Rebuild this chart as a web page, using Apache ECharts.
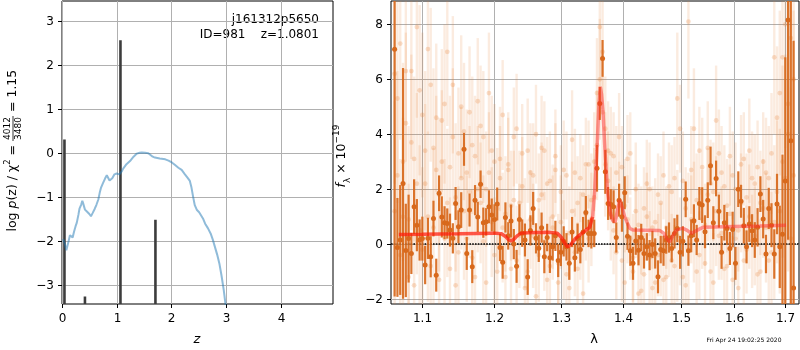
<!DOCTYPE html>
<html>
<head>
<meta charset="utf-8">
<script src="https://cdn.jsdelivr.net/npm/echarts@6/dist/echarts.min.js"></script>
<style>
  html, body { margin: 0; padding: 0; background: #fff; }
  #chart { width: 800px; height: 350px; }
</style>
</head>
<body>
<div id="chart"></div>
<script>
// left panel: log p(z)
const zGrid = [0.02, 0.05, 0.08, 0.10, 0.12, 0.145, 0.17, 0.195, 0.22, 0.25, 0.27, 0.30, 0.32, 0.35, 0.372, 0.39, 0.42, 0.46, 0.50, 0.53,
  0.56, 0.60, 0.63, 0.665, 0.69, 0.715, 0.75, 0.79, 0.82, 0.845, 0.87, 0.89, 0.92, 0.96, 1.00, 1.05, 1.09, 1.12, 1.18, 1.245,
  1.31, 1.37, 1.42, 1.46, 1.52, 1.58, 1.62, 1.66, 1.70, 1.79, 1.89, 1.95, 2.01, 2.07, 2.13, 2.19, 2.25, 2.30, 2.34, 2.37,
  2.40, 2.43, 2.47, 2.51, 2.54, 2.58, 2.62, 2.67, 2.72, 2.76, 2.80, 2.84, 2.88, 2.92, 2.96, 3.00];
const logPz = [-1.95, -2.05, -2.2, -2.18, -2.0, -1.86, -1.88, -1.91, -1.78, -1.65, -1.58, -1.4, -1.26, -1.17, -1.08, -1.15, -1.28, -1.33, -1.38, -1.43,
  -1.36, -1.26, -1.17, -1.05, -0.9, -0.78, -0.68, -0.57, -0.5, -0.52, -0.62, -0.65, -0.57, -0.48, -0.46, -0.48, -0.42, -0.35, -0.25, -0.18,
  -0.08, -0.01, 0.01, 0.015, 0.01, 0.0, -0.04, -0.08, -0.1, -0.12, -0.14, -0.17, -0.21, -0.27, -0.33, -0.38, -0.48, -0.56, -0.63, -0.78,
  -0.99, -1.18, -1.29, -1.34, -1.38, -1.48, -1.6, -1.7, -1.82, -1.96, -2.13, -2.3, -2.5, -2.78, -3.1, -3.5];
const barZ = [0.045, 0.42, 1.07, 1.71];
const barVal = [0.31, -3.25, 2.56, -1.51];
const zTicks = [0, 1, 2, 3, 4];
const pTicks = [-3, -2, -1, 0, 1, 2, 3];

// right panel: spectrum
const lam = [
  1.0646, 1.0682, 1.0718, 1.0754, 1.0790, 1.0826, 1.0862, 1.0898, 1.0934, 1.0970,
  1.1006, 1.1043, 1.1080, 1.1117, 1.1154, 1.1191, 1.1229, 1.1266, 1.1303, 1.1340,
  1.1377, 1.1416, 1.1454, 1.1493, 1.1531, 1.1570, 1.1608, 1.1647, 1.1685, 1.1724,
  1.1762, 1.1802, 1.1841, 1.1881, 1.1921, 1.1961, 1.2000, 1.2040, 1.2080, 1.2119,
  1.2159, 1.2200, 1.2241, 1.2282, 1.2323, 1.2365, 1.2406, 1.2447, 1.2488, 1.2529,
  1.2570, 1.2613, 1.2655, 1.2698, 1.2740, 1.2783, 1.2825, 1.2868, 1.2910, 1.2953,
  1.2995, 1.3039, 1.3083, 1.3127, 1.3171, 1.3215, 1.3258, 1.3302, 1.3346, 1.3390,
  1.3434, 1.3479, 1.3525, 1.3570, 1.3616, 1.3661, 1.3706, 1.3752, 1.3797, 1.3843,
  1.3888, 1.3935, 1.3982, 1.4029, 1.4076, 1.4123, 1.4169, 1.4216, 1.4263, 1.4310,
  1.4357, 1.4406, 1.4454, 1.4503, 1.4551, 1.4600, 1.4648, 1.4697, 1.4745, 1.4794,
  1.4842, 1.4892, 1.4942, 1.4992, 1.5042, 1.5093, 1.5143, 1.5193, 1.5243, 1.5293,
  1.5343, 1.5395, 1.5447, 1.5498, 1.5550, 1.5602, 1.5654, 1.5706, 1.5757, 1.5809,
  1.5861, 1.5915, 1.5968, 1.6022, 1.6076, 1.6129, 1.6183, 1.6236, 1.6290, 1.6344,
  1.6397, 1.6452, 1.6508, 1.6563, 1.6619, 1.6674, 1.6729, 1.6785, 1.6840, 1.6896,
  1.6951, 1.7008, 1.7065, 1.7121, 1.7178];
const flux = [
  7.09, -0.12, 0.15, 2.21, -0.23, 0.2, -0.34, 1.36, 0.69, 0.15,
  0.2, -0.76, 0.21, -0.46, 0.93, -1.13, 1.85, 0.99, 0.78, 0.75,
  0.51, 0.21, 1.48, 0.63, 1.24, 3.45, -0.34, 1.24, -0.82, 1.6,
  0.99, 2.18, 0.78, 0.81, 1.36, 1.06, 0.9, 1.46, -0.12, -0.66,
  0.97, 0.3, 0.84, 0.0, -0.81, 0.9, 0.4, 0.15, -1.2, 0.5,
  1.3, 0.21, -0.15, 0.6, -0.46, 0.24, -0.5, -0.1, 0.3, -0.6,
  -0.3, 0.1, -0.1, -0.7, 0.44, -0.5, 0.2, -0.2, 0.44, 1.15,
  0.39, 0.39, 0.39, 2.76, 5.12, 6.76, 2.63, 1.48, 1.45, 1.36,
  0.24, 1.6, 1.0, 1.87, 0.29, -0.24, -0.7, 0.11, -0.22, 0.24,
  -0.34, -0.1, -0.4, -0.01, -0.34, -1.19, -0.2, -0.24, 0.15, 0.24,
  -0.16, 0.39, 0.57, -0.3, 0.1, 1.63, -0.24, 0.3, 0.85, 0.15,
  1.48, 1.42, 0.45, 1.6, 2.85, 0.78, 2.39, 1.2, -0.3, 0.78,
  0.57, -0.16, 0.53, -0.7, 2.0, 1.56, 0.67, -0.1, 0.73, 0.49,
  0.15, 0.61, 1.82, 0.91, -0.36, 1.3, 0.69, -0.36, 1.46, -0.1,
  0.36, 2.3, 8.16, 3.76, -1.6];
const fluxErr = [
  9, 1.8, 2.0, 4.2, 1.7, 1.6, 0.75, 1.0, 0.95, 0.75,
  0.8, 0.7, 0.75, 0.75, 0.65, 0.6, 0.65, 0.75, 0.6, 0.55,
  0.6, 0.55, 0.6, 0.6, 0.65, 0.6, 0.6, 0.6, 0.6, 0.55,
  0.55, 0.5, 0.55, 0.5, 0.6, 0.6, 0.55, 0.6, 0.5, 0.6,
  0.55, 0.5, 0.6, 0.55, 0.6, 0.55, 0.5, 0.6, 0.65, 0.55,
  0.6, 0.55, 0.5, 0.55, 0.6, 0.5, 0.55, 0.5, 0.55, 0.6,
  0.5, 0.55, 0.5, 0.6, 0.55, 0.5, 0.55, 0.5, 0.55, 0.6,
  0.5, 0.55, 0.5, 0.85, 0.6, 0.67, 0.8, 0.6, 0.55, 0.6,
  0.55, 0.6, 0.55, 0.6, 0.5, 0.55, 0.6, 0.5, 0.55, 0.5,
  0.55, 0.5, 0.55, 0.5, 0.55, 0.6, 0.5, 0.55, 0.5, 0.55,
  0.5, 0.55, 0.5, 0.6, 0.55, 0.65, 0.55, 0.6, 0.6, 0.55,
  0.6, 0.65, 0.6, 0.65, 0.7, 0.6, 0.65, 0.6, 0.6, 0.65,
  0.6, 0.6, 0.65, 0.6, 0.65, 0.6, 0.65, 0.6, 0.65, 0.6,
  0.65, 0.7, 0.65, 0.7, 0.7, 0.75, 0.8, 0.9, 1.1, 1.5,
  2.9, 4.5, 8, 6, 9];
// individual exposures (faint)
const faintA = [
  6.2, 2.5, 7.3, 1.0, 4.4, -1.2, 6.3, 3.1, 7.9, 0.5,
  4.7, 2.2, 7.1, -0.8, 3.5, 4.6, 1.8, 4.5, 0.2, 7.0,
  2.8, 5.8, -1.5, 3.3, 5.0, 1.2, 2.6, 4.8, -0.5, 3.2,
  5.2, 1.5, 3.9, 2.0, 5.5, 0.8, 3.0, -1.0, 2.4, 4.7,
  1.1, 2.9, -0.9, 1.6, 4.2, 0.3, 2.1, -1.6, 3.4, 0.9,
  2.5, 4.0, -0.4, 1.8, 3.4, -1.3, 2.3, 0.6, 3.2, -0.7,
  1.9, 2.7, -1.1, 0.4, 3.8, -0.3, 1.5, 2.4, -1.8, 1.1,
  2.9, 0.9, 1.7, 3.6, 7.9, 7.0, 4.2, 2.3, 3.3, 0.5,
  2.6, 3.9, -0.6, 1.4, 3.1, 0.2, -1.0, 2.0, 0.7, -1.7,
  1.3, 2.2, -0.5, 0.6, -1.4, 1.8, -0.2, 2.5, -1.2, 0.4,
  1.9, -0.8, 5.3, 0.1, 2.3, -1.5, 8.1, 0.9, 4.2, 1.6,
  -0.4, 2.8, 0.7, 3.5, -1.0, 1.9, 4.5, 0.3, 2.6, -0.9,
  1.4, 3.2, -1.3, 2.0, 0.5, 2.9, -0.6, 1.7, 3.4, 0.1,
  2.2, -1.1, 1.5, 3.0, 0.6, 2.4, -0.3, 6.8, 1.9, 5.5,
  3.0, 8.0, 5.1, 0.2, 6.0];
const faintB = [
  1.2, 5.3, -0.4, 3.0, 6.3, 0.9, 3.7, -1.5, 2.2, 5.6,
  -0.2, 3.4, 1.0, 5.8, 0.6, 2.7, -1.3, 3.0, 5.1, 1.5,
  -0.9, 3.9, 1.7, -0.3, 2.4, 4.1, 0.2, 1.9, 3.6, -1.2,
  2.0, 4.3, 0.1, -1.4, 2.6, 3.4, -0.4, 1.3, 3.1, 0.6,
  -1.2, 2.7, 1.4, 3.9, -0.6, 1.5, 3.3, 0.4, -1.0, 2.6,
  0.3, -1.9, 1.6, 3.5, 0.1, 2.2, -0.8, 1.0, 2.7, -1.4,
  0.8, -0.2, 2.5, -1.6, 1.2, 2.6, -0.9, 0.3, 1.8, 2.9,
  0.2, 1.6, 3.0, 5.5, 6.0, 4.8, 2.9, 3.4, 1.1, 3.2,
  -0.3, 1.4, 2.8, -1.4, 0.9, 3.3, -0.5, 1.2, -1.8, 0.5,
  -1.1, 1.0, 2.0, -1.6, 0.8, -0.4, 1.5, -1.3, 0.6, 2.1,
  -0.6, 2.4, 0.3, 4.2, -1.2, 1.3, -0.2, 2.7, 0.8, -1.0,
  3.4, 0.9, -0.7, 1.8, 2.2, -1.4, 1.2, 3.3, 0.4, 2.1,
  -0.8, 1.1, 2.5, 0.2, -1.6, 1.5, 3.1, -0.2, 1.0, 2.4,
  0.3, 2.8, -1.0, 1.3, 2.6, -0.6, 3.3, 0.8, 4.6, 1.2,
  6.8, 2.4, 4.0, 7.5, 2.5];
const faintErr = [
  4.0, 3.8, 3.5, 3.6, 3.3, 3.4, 3.2, 3.0, 3.3, 3.1,
  3.0, 2.9, 3.1, 2.8, 2.9, 2.7, 2.8, 2.6, 2.9, 2.7,
  2.6, 2.5, 2.7, 2.4, 2.6, 2.5, 2.3, 2.4, 2.5, 2.2,
  2.3, 2.2, 2.4, 2.1, 2.2, 2.0, 2.1, 2.2, 1.9, 2.0,
  2.1, 1.9, 2.0, 1.8, 2.0, 1.9, 1.8, 2.0, 1.9, 1.8,
  1.9, 1.8, 1.7, 1.9, 1.8, 1.7, 1.8, 1.9, 1.7, 1.8,
  1.7, 1.8, 1.6, 1.7, 1.8, 1.6, 1.7, 1.6, 1.8, 1.7,
  1.6, 1.7, 1.8, 2.0, 2.2, 2.1, 1.9, 1.8, 1.7, 1.6,
  1.7, 1.6, 1.5, 1.7, 1.6, 1.5, 1.6, 1.7, 1.5, 1.6,
  1.5, 1.6, 1.7, 1.5, 1.6, 1.5, 1.7, 1.6, 1.5, 1.6,
  1.7, 1.5, 2.4, 1.6, 1.8, 1.5, 2.8, 1.6, 2.2, 1.7,
  1.6, 1.8, 1.5, 1.7, 1.6, 1.8, 2.0, 1.6, 1.7, 1.5,
  1.7, 1.8, 1.6, 1.7, 1.5, 1.8, 1.7, 1.6, 1.9, 1.7,
  1.8, 1.7, 1.9, 1.8, 2.0, 1.9, 2.2, 2.8, 2.6, 3.0,
  3.5, 4.5, 5.0, 5.5, 6.0];
// model: blue-side segment and red-side segment
const modelLamA = [1.070, 1.100, 1.150, 1.200, 1.210, 1.216, 1.220, 1.224, 1.228, 1.233, 1.239, 1.260, 1.280, 1.294, 1.300, 1.305, 1.310, 1.315, 1.3227, 1.331, 1.3392, 1.3453, 1.350];
const modelFluxA = [0.35, 0.36, 0.38, 0.40, 0.38, 0.28, 0.17, 0.12, 0.17, 0.30, 0.40, 0.42, 0.43, 0.40, 0.25, 0.05, -0.10, -0.02, 0.21, 0.36, 0.51, 0.62, 1.0];
const modelLamB = [1.350, 1.3535, 1.3569, 1.3600, 1.3624, 1.3645, 1.3667, 1.3706, 1.3744, 1.3788, 1.3831, 1.3870, 1.3905, 1.3943, 1.3985, 1.4027,
  1.4111, 1.4167, 1.4628, 1.4700, 1.4760, 1.4804, 1.4860, 1.4924, 1.5043, 1.5120, 1.5195, 1.5280, 1.5408, 1.6000, 1.6500, 1.7024];
const modelFluxB = [1.0, 2.0, 3.4, 5.0, 5.73, 5.45, 4.88, 3.18, 1.86, 1.12, 0.85, 0.82, 1.2, 1.6, 1.35, 1.0,
  0.58, 0.51, 0.50, 0.40, 0.18, 0.08, 0.30, 0.51, 0.58, 0.50, 0.39, 0.48, 0.61, 0.64, 0.66, 0.69];
const lamTicks = [1.1, 1.2, 1.3, 1.4, 1.5, 1.6, 1.7];
const fTicks = [-2, 0, 2, 4, 6, 8];

const Z_MAX = 4.96, Y1MIN = -3.42, Y1MAX = 3.45;
const LMIN = 1.06, LMAX = 1.729, Y2MIN = -2.18, Y2MAX = 8.85;
const FONT = 'DejaVu Sans';
const GRID = '#b0b0b0';

const chart = echarts.init(document.getElementById('chart'));

function intLabel(v) {
  if (Math.abs(v - Math.round(v)) > 1e-6) return '';
  v = Math.round(v);
  return v < 0 ? '\u2212' + (-v) : String(v);
}

function errBars(color, barOpacity, dotOpacity, barWidth, r) {
  return function (params, api) {
    const x = api.value(0), y = api.value(1), e = api.value(2);
    const c = api.coord([x, y]);
    const t = api.coord([x, Math.min(y + e, Y2MAX)]);
    const b = api.coord([x, Math.max(y - e, Y2MIN)]);
    const kids = [{
      type: 'line',
      shape: { x1: c[0], y1: t[1], x2: c[0], y2: b[1] },
      style: { stroke: color, lineWidth: barWidth, opacity: barOpacity }
    }];
    if (y >= Y2MIN && y <= Y2MAX) {
      kids.push({ type: 'circle', shape: { cx: c[0], cy: c[1], r: r }, style: { fill: color, opacity: dotOpacity } });
    }
    return { type: 'group', children: kids };
  };
}

// vertical grid line + outward tick + label, through the axis scale
function xTick(yMin, yMax, fmt) {
  return function (params, api) {
    const v = api.value(0);
    const b = api.coord([v, yMin]), t = api.coord([v, yMax]);
    const x = Math.round(b[0]) + 0.5;
    return { type: 'group', children: [
      { type: 'rect', shape: { x: x - 0.5, y: t[1], width: 1, height: b[1] - t[1] }, style: { fill: GRID } },
      { type: 'rect', shape: { x: x - 0.5, y: b[1], width: 1, height: 4 }, style: { fill: '#000' } },
      { type: 'text', x: x, y: b[1] + 9, style: { text: fmt(v), fill: '#000', font: '12px ' + FONT, align: 'center', verticalAlign: 'top' } }
    ] };
  };
}
// horizontal grid line + outward tick + label
function yTick(xMin, xMax, fmt) {
  return function (params, api) {
    const v = api.value(1);
    const l = api.coord([xMin, v]), r = api.coord([xMax, v]);
    const y = Math.round(l[1]) + 0.5;
    return { type: 'group', children: [
      { type: 'rect', shape: { x: l[0], y: y - 0.5, width: r[0] - l[0], height: 1 }, style: { fill: GRID } },
      { type: 'rect', shape: { x: l[0] - 4, y: y - 0.5, width: 4, height: 1 }, style: { fill: '#000' } },
      { type: 'text', x: l[0] - 8, y: y, style: { text: fmt(v), fill: '#000', font: '12px ' + FONT, align: 'right', verticalAlign: 'middle' } }
    ] };
  };
}

const hiddenAxis = {
  axisLine: { show: false }, axisTick: { show: false }, axisLabel: { show: false }, splitLine: { show: false }
};

chart.setOption({
  animation: false,
  grid: [
    { left: 62, top: 1, width: 271, height: 303, show: true, borderColor: '#000', borderWidth: 1, backgroundColor: 'rgba(0,0,0,0)' },
    { left: 391, top: 1, width: 408, height: 303, show: true, borderColor: '#000', borderWidth: 1, backgroundColor: 'rgba(0,0,0,0)' }
  ],
  xAxis: [
    Object.assign({ gridIndex: 0, type: 'value', min: 0, max: Z_MAX }, hiddenAxis),
    Object.assign({ gridIndex: 1, type: 'log', logBase: 10, min: LMIN, max: LMAX }, hiddenAxis)
  ],
  yAxis: [
    Object.assign({ gridIndex: 0, type: 'value', min: Y1MIN, max: Y1MAX }, hiddenAxis),
    Object.assign({ gridIndex: 1, type: 'value', min: Y2MIN, max: Y2MAX }, hiddenAxis)
  ],
  series: [
    {
      type: 'custom', xAxisIndex: 0, yAxisIndex: 0, z: 1, silent: true,
      data: zTicks.map(v => [v, 0]), renderItem: xTick(Y1MIN, Y1MAX, intLabel)
    },
    {
      type: 'custom', xAxisIndex: 0, yAxisIndex: 0, z: 1, silent: true,
      data: pTicks.map(v => [0, v]), renderItem: yTick(0, Z_MAX, intLabel)
    },
    {
      type: 'custom', xAxisIndex: 0, yAxisIndex: 0, z: 3,
      data: barZ.map((z, i) => [z, barVal[i]]),
      renderItem: function (params, api) {
        const top = api.coord([api.value(0), api.value(1)]);
        const base = api.coord([api.value(0), Y1MIN]);
        return { type: 'group', children: [
          { type: 'rect', shape: { x: top[0] - 1.3, y: top[1], width: 2.6, height: base[1] - top[1] }, style: { fill: '#3c3c3c' } }
        ] };
      }
    },
    {
      type: 'line', xAxisIndex: 0, yAxisIndex: 0, z: 4,
      data: zGrid.map((z, i) => [z, logPz[i]]),
      showSymbol: false, smooth: false,
      lineStyle: { color: '#1f77b4', opacity: 0.5, width: 2 }
    },
    {
      type: 'custom', xAxisIndex: 1, yAxisIndex: 1, z: 1, silent: true,
      data: fTicks.map(v => [LMIN, v]), renderItem: yTick(LMIN, LMAX, intLabel)
    },
    {
      type: 'custom', xAxisIndex: 1, yAxisIndex: 1, z: 1, silent: true,
      data: lamTicks.map(v => [v, 0]), renderItem: xTick(Y2MIN, Y2MAX, v => v.toFixed(1))
    },
    {
      type: 'custom', xAxisIndex: 1, yAxisIndex: 1, z: 2, silent: true,
      data: lam.map((l, i) => [l, faintA[i], faintErr[i]]),
      renderItem: errBars('#e8823a', 0.16, 0.26, 2.4, 2.4)
    },
    {
      type: 'custom', xAxisIndex: 1, yAxisIndex: 1, z: 2, silent: true,
      data: lam.map((l, i) => [l, faintB[i], faintErr[i]]),
      renderItem: errBars('#e8823a', 0.16, 0.26, 2.4, 2.4)
    },
    {
      type: 'custom', xAxisIndex: 1, yAxisIndex: 1, z: 5, silent: true,
      data: lam.map((l, i) => [l, flux[i], fluxErr[i]]),
      renderItem: errBars('#d8691c', 0.92, 1, 2.2, 2.5)
    },
    {
      type: 'line', xAxisIndex: 1, yAxisIndex: 1, z: 6,
      data: modelLamA.map((l, i) => [l, modelFluxA[i]]),
      showSymbol: false, lineStyle: { color: '#ff1a0a', opacity: 0.72, width: 3.5 }
    },
    {
      type: 'line', xAxisIndex: 1, yAxisIndex: 1, z: 6,
      data: modelLamB.map((l, i) => [l, modelFluxB[i]]),
      showSymbol: false, lineStyle: { color: '#ff2a2a', opacity: 0.48, width: 3.5 },
      markLine: {
        silent: true, symbol: 'none', label: { show: false },
        lineStyle: { color: '#000', type: [1.6, 1.2], width: 1.6, opacity: 1 },
        data: [{ yAxis: 0 }]
      }
    }
  ],
  graphic: [
    { type: 'text', x: 319, y: 20, style: { text: 'j161312p5650', fill: '#000', font: '12px ' + FONT, align: 'right', verticalAlign: 'middle' } },
    { type: 'text', x: 319, y: 35, style: { text: 'ID=981    z=1.0801', fill: '#000', font: '12px ' + FONT, align: 'right', verticalAlign: 'middle' } },
    { type: 'text', x: 197, y: 340, style: { text: 'z', fill: '#000', font: 'italic 13px ' + FONT, align: 'center', verticalAlign: 'middle' } },
    { type: 'text', x: 594, y: 340, style: { text: 'λ', fill: '#000', font: '13px ' + FONT, align: 'center', verticalAlign: 'middle' } },
    { type: 'text', x: 744, y: 340, style: { text: 'Fri Apr 24 19:02:25 2020', fill: '#000', font: '6px ' + FONT, align: 'center', verticalAlign: 'middle' } },
    {
      type: 'group', x: 13, y: 154, rotation: Math.PI / 2,
      children: [
        { type: 'text', x: 9, y: 0, style: {
          text: '{t|log }{i|p}{t|(z) / χ}{s|2}{t| =}', align: 'right', verticalAlign: 'middle',
          rich: {
            t: { fontFamily: FONT, fontSize: 12.5, fill: '#000', lineHeight: 20 },
            i: { fontFamily: FONT, fontSize: 12.5, fontStyle: 'italic', fill: '#000', lineHeight: 20 },
            s: { fontFamily: FONT, fontSize: 8.5, fill: '#000', verticalAlign: 'top' }
          } } },
        { type: 'text', x: 25.5, y: -5, style: { text: '4012', fill: '#000', font: '9px ' + FONT, align: 'center', verticalAlign: 'middle' } },
        { type: 'line', shape: { x1: 13, y1: 0, x2: 38, y2: 0 }, style: { stroke: '#000', lineWidth: 0.8 } },
        { type: 'text', x: 25.5, y: 5.5, style: { text: '3480', fill: '#000', font: '9px ' + FONT, align: 'center', verticalAlign: 'middle' } },
        { type: 'text', x: 42, y: 0, style: { text: '= 1.15', fill: '#000', font: '12.5px ' + FONT, align: 'left', verticalAlign: 'middle' } }
      ]
    },
    {
      type: 'text', x: 342, y: 156, rotation: Math.PI / 2,
      style: {
        text: '{i|f}{b|λ}{t| × 10}{s|\u221219}', align: 'center', verticalAlign: 'middle',
        rich: {
          t: { fontFamily: FONT, fontSize: 12.5, fill: '#000', lineHeight: 20 },
          i: { fontFamily: FONT, fontSize: 12.5, fontStyle: 'italic', fill: '#000', lineHeight: 20 },
          b: { fontFamily: FONT, fontSize: 9, fill: '#000', verticalAlign: 'bottom' },
          s: { fontFamily: FONT, fontSize: 9, fill: '#000', verticalAlign: 'top' }
        }
      }
    }
  ]
});
</script>
</body>
</html>
